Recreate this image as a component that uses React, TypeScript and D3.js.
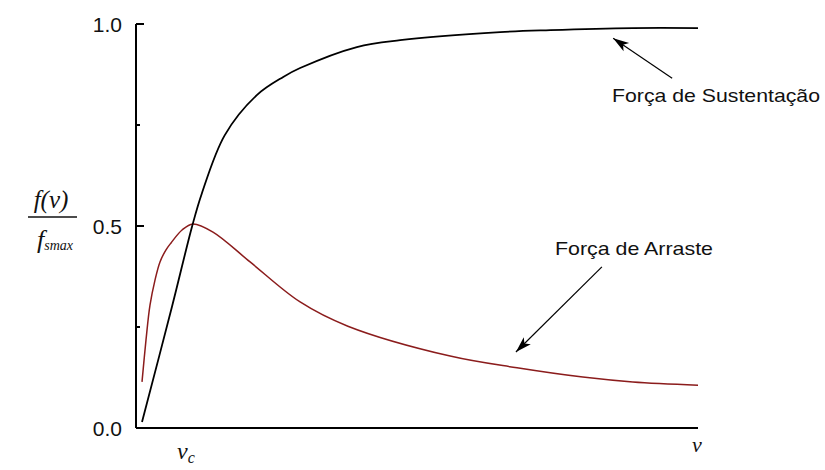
import React from "react";
import * as d3 from "d3";

// Normalised force curves f(v)/f_smax against flow speed v (arbitrary units 0..100)
const vLift = [1.07, 6.4, 10, 11.7, 15.8, 21.5, 26.2, 29.2, 39.3, 47, 64.8, 73.7, 88.4, 100];
const lift = [0.015, 0.3, 0.5, 0.58, 0.725, 0.824, 0.869, 0.891, 0.943, 0.96, 0.98, 0.985, 0.99, 0.99];

const vDrag = [1.07, 1.78, 2.49, 3.38, 4.27, 5.34, 6.23, 8.19, 10.1, 13.7, 20.3, 29.2, 37.7, 55.9, 67.8, 79.5, 88.4, 100];
const drag = [0.114, 0.218, 0.304, 0.366, 0.411, 0.441, 0.458, 0.49, 0.505, 0.485, 0.411, 0.312, 0.252, 0.178, 0.149, 0.126, 0.114, 0.106];

const yMajorTicks = [0, 0.5, 1];
const yMinorTicks = [0.25, 0.75];
const yTickLabels = ["0.0", "0.5", "1.0"];

const liftLabel = "Força de Sustentação";
const dragLabel = "Força de Arraste";

const W = 825;
const H = 470;

export default function App() {
  const x = d3.scaleLinear().domain([0, 100]).range([136, 698]);
  const y = d3.scaleLinear().domain([0, 1]).range([428, 24]);

  const line = d3
    .line<[number, number]>()
    .x((d) => x(d[0]))
    .y((d) => y(d[1]))
    .curve(d3.curveCatmullRom.alpha(0.5));

  const liftPts = vLift.map((v, i) => [v, lift[i]] as [number, number]);
  const dragPts = vDrag.map((v, i) => [v, drag[i]] as [number, number]);

  const sans = "'Liberation Sans', Arial, sans-serif";
  const serif = "'Liberation Serif', 'Times New Roman', serif";

  // annotation arrows, given in data coordinates: [tail, tip]
  const arrows: [[number, number], [number, number]][] = [
    [[95.4, 0.866], [84.9, 0.965]],
    [[82.9, 0.399], [67.6, 0.188]],
  ];

  const arrowHead = (tail: [number, number], tip: [number, number]) => {
    const tx = x(tip[0]);
    const ty = y(tip[1]);
    const ax = x(tail[0]) - tx;
    const ay = y(tail[1]) - ty;
    const len = Math.hypot(ax, ay);
    const ux = ax / len;
    const uy = ay / len;
    const L = 16;
    const hw = 5;
    const bx = tx + ux * L;
    const by = ty + uy * L;
    const nx = tx + ux * (L * 0.75);
    const ny = ty + uy * (L * 0.75);
    return `M${tx},${ty} L${bx - uy * hw},${by + ux * hw} L${nx},${ny} L${bx + uy * hw},${by - ux * hw} Z`;
  };

  return (
    <svg
      width={W}
      height={H}
      style={{ position: "absolute", left: 0, top: 0, background: "#fff" }}
    >
      {/* axes */}
      <line x1={x(0)} x2={x(0)} y1={y(1)} y2={y(0)} stroke="#000" strokeWidth={2} />
      <line x1={x(0)} x2={x(100)} y1={y(0)} y2={y(0)} stroke="#000" strokeWidth={2} />

      {yMajorTicks.map((t, i) => (
        <g key={"maj" + t}>
          <line x1={x(0)} x2={x(0) + 8} y1={y(t)} y2={y(t)} stroke="#000" strokeWidth={2} />
          <text
            x={122}
            y={y(t)}
            textAnchor="end"
            dominantBaseline="central"
            fontFamily={sans}
            fontSize={21}
            fill="#111"
          >
            {yTickLabels[i]}
          </text>
        </g>
      ))}
      {yMinorTicks.map((t) => (
        <line key={"min" + t} x1={x(0)} x2={x(0) + 4} y1={y(t)} y2={y(t)} stroke="#000" strokeWidth={2} />
      ))}

      {/* y-axis title as a fraction */}
      <text x={51} y={208} textAnchor="middle" fontFamily={serif} fontStyle="italic" fontSize={25} fill="#111">
        f(v)
      </text>
      <line x1={28} x2={77} y1={217} y2={217} stroke="#111" strokeWidth={1.5} />
      <text x={37} y={248} fontFamily={serif} fontStyle="italic" fontSize={26} fill="#111">
        f
        <tspan fontSize={14} dy={2}>smax</tspan>
      </text>

      {/* x-axis labels */}
      <text x={177} y={459} fontFamily={serif} fontStyle="italic" fontSize={24} fill="#111">
        v
        <tspan fontSize={16} dy={4}>c</tspan>
      </text>
      <text x={692} y={452} fontFamily={serif} fontStyle="italic" fontSize={22} fill="#111">
        v
      </text>

      {/* curves */}
      <path d={line(dragPts) ?? ""} fill="none" stroke="#8b1c1c" strokeWidth={1.5} />
      <path d={line(liftPts) ?? ""} fill="none" stroke="#000" strokeWidth={1.8} />

      {/* annotations */}
      {arrows.map(([tail, tip], i) => (
        <g key={"arr" + i}>
          <line x1={x(tail[0])} y1={y(tail[1])} x2={x(tip[0])} y2={y(tip[1])} stroke="#000" strokeWidth={1.2} />
          <path d={arrowHead(tail, tip)} fill="#000" />
        </g>
      ))}
      <text x={612} y={102} fontFamily={sans} fontSize={19} textLength={208} lengthAdjust="spacingAndGlyphs" fill="#111">
        {liftLabel}
      </text>
      <text x={555} y={255} fontFamily={sans} fontSize={19} textLength={158} lengthAdjust="spacingAndGlyphs" fill="#111">
        {dragLabel}
      </text>
    </svg>
  );
}
